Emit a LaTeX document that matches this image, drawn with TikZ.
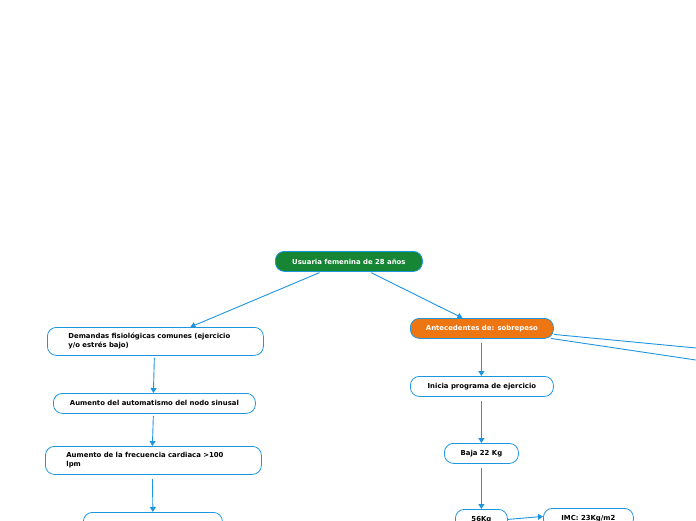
\documentclass[tikz,border=0pt]{standalone}
\usepackage{fontspec}
\setmainfont{DejaVu Sans}
\usetikzlibrary{arrows.meta,calc}
\definecolor{lblue}{RGB}{30,149,223}
\definecolor{mgreen}{RGB}{22,134,52}
\definecolor{morange}{RGB}{237,118,18}
\newcommand{\fnt}{\fontsize{6.9pt}{9pt}\selectfont\bfseries}
\begin{document}
\begin{tikzpicture}[x=1pt,y=-1pt,
  box/.style={draw=lblue, line width=0.8pt, rounded corners=9pt, fill=white,
    font=\fnt, inner sep=0pt, anchor=north west, align=center},
  conn/.style={draw=lblue, line width=0.9pt, -{Triangle[width=6pt,length=5pt]}, shorten <=2pt},
  line/.style={draw=lblue, line width=0.9pt}]
\useasboundingbox (0,0) rectangle (696,520);
\clip (0,0) rectangle (696,520);
% nodes
\node[box, fill=mgreen, text=white, minimum width=147pt, minimum height=20pt] (root) at (275,251) {Usuaria femenina de 28 años};
\node[box, minimum width=216pt, minimum height=28pt, align=left, text width=174pt, inner xsep=21pt] (dem) at (47,327) {Demandas fisiológicas comunes (ejercicio\\y/o estrés bajo)};
\node[box, minimum width=202pt, minimum height=20pt] (aut) at (53,393) {Aumento del automatismo del nodo sinusal};
\node[box, minimum width=216pt, minimum height=28pt, align=left, text width=174pt, inner xsep=21pt] (fre) at (45,446) {Aumento de la frecuencia cardiaca >100\\lpm};
\node[box, minimum width=139pt, minimum height=28pt] (bot) at (83,512) {};
\node[box, fill=morange, text=white, minimum width=143pt, minimum height=20pt] (ant) at (410,318) {Antecedentes de: sobrepeso};
\node[box, minimum width=143pt, minimum height=20pt] (ini) at (410,376) {Inicia programa de ejercicio};
\node[box, minimum width=74pt, minimum height=20pt] (baj) at (444,443) {Baja 22 Kg};
\node[box, minimum width=52pt, minimum height=20pt] (kg) at (455,509) {56Kg};
\node[box, minimum width=90pt, minimum height=20pt] (imc) at (543,508) {IMC: 23Kg/m2};
\coordinate (off1) at (720,350.3);
\coordinate (off2) at (720,363.6);
% connectors
\draw[conn] ([xshift=-27.5pt]root.south) -- ([xshift=35pt]dem.north);
\draw[conn] ([xshift=20.5pt]root.south) -- ([xshift=-19.5pt]ant.north);
\draw[conn] ([xshift=-1pt]dem.south) -- ([xshift=-1pt]aut.north);
\draw[conn] ([xshift=-1pt]aut.south) -- ([xshift=-1pt]fre.north);
\draw[conn, shorten <=4pt] ([xshift=-1pt]fre.south) -- ([xshift=0pt]bot.north);
\draw[conn, shorten <=4pt] ([xshift=-0.5pt]ant.south) -- ([xshift=-0.5pt]ini.north);
\draw[conn, shorten <=4pt] ([xshift=-0.5pt]ini.south) -- ([xshift=0pt]baj.north);
\draw[conn, shorten <=4pt] ([xshift=0pt]baj.south) -- ([xshift=0pt]kg.north);
\draw[conn, shorten <=0pt] (kg.east) -- ([yshift=2pt]imc.west);
\draw[line] ([yshift=-6pt]ant.east) -- (off1);
\draw[line] ([xshift=-3pt,yshift=-10pt]ant.east) -- (off2);
\end{tikzpicture}
\end{document}
